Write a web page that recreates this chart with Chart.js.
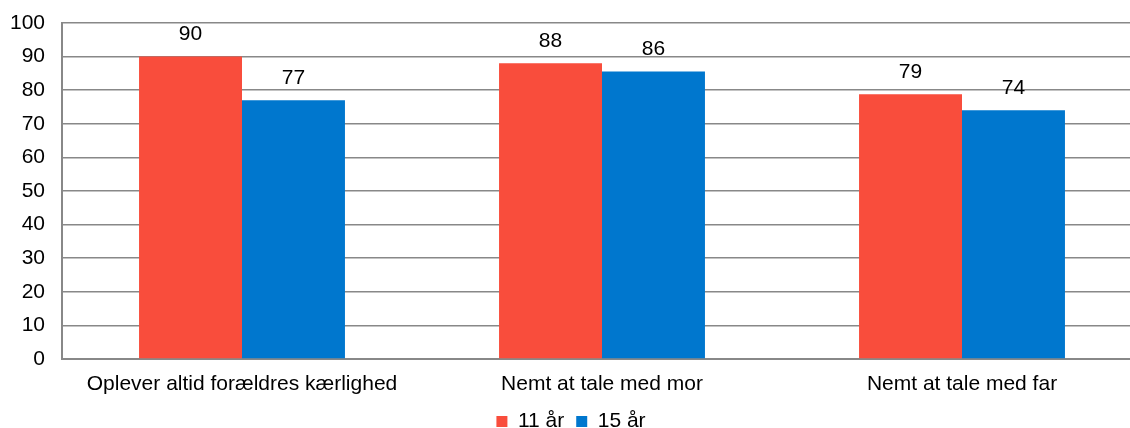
<!DOCTYPE html>
<html>
<head>
<meta charset="utf-8">
<script src="https://cdn.jsdelivr.net/npm/chart.js@4"></script>
<style>
  html, body { margin: 0; padding: 0; background: #fff; overflow: hidden; }
  #wrap { width: 1130px; height: 428px; overflow: hidden; }
</style>
</head>
<body>
<div id="wrap"><canvas id="chart" width="1150" height="442"></canvas></div>
<script>
const categories = ['Oplever altid forældres kærlighed', 'Nemt at tale med mor', 'Nemt at tale med far'];
const seriesNames = ['11 år', '15 år'];
const values11 = [90, 88, 78.8];
const values15 = [77, 85.6, 74];
const labels11 = ['90', '88', '79'];
const labels15 = ['77', '86', '74'];

const red = '#F94D3C';
const blue = '#0077CE';
const gridColor = '#888888';
const font = { family: 'Liberation Sans, Arial, sans-serif', size: 21 };

// draws the value above each bar
const valueLabels = {
    id: 'valueLabels',
    afterDatasetsDraw(chart) {
        const ctx = chart.ctx;
        const texts = [labels11, labels15];
        ctx.save();
        ctx.font = `${font.size}px ${font.family}`;
        ctx.fillStyle = '#000';
        ctx.textAlign = 'center';
        ctx.textBaseline = 'middle';
        chart.data.datasets.forEach((ds, i) => {
            chart.getDatasetMeta(i).data.forEach((bar, j) => {
                ctx.fillText(texts[i][j], bar.x, bar.y - 22);
            });
        });
        ctx.restore();
    }
};

new Chart(document.getElementById('chart').getContext('2d'), {
    type: 'bar',
    data: {
        labels: categories,
        datasets: [
            { label: seriesNames[0], data: values11, backgroundColor: red },
            { label: seriesNames[1], data: values15, backgroundColor: blue }
        ]
    },
    options: {
        responsive: false,
        animation: false,
        layout: { padding: { top: 23, right: 8, left: 0, bottom: 0 } },
        datasets: { bar: { categoryPercentage: 0.572, barPercentage: 1 } },
        scales: {
            x: {
                afterFit(scale) { scale.height = 40; },
                grid: { display: false, drawTicks: false },
                border: { color: gridColor, width: 2 },
                ticks: { color: '#000', font: font, padding: 13, maxRotation: 0 }
            },
            y: {
                min: 0,
                max: 100,
                afterFit(scale) {
                    scale.width = 62;
                    scale.paddingTop = 0;
                    scale.paddingBottom = 0;
                },
                grid: { color: gridColor, lineWidth: 1.5, drawTicks: false },
                border: { color: gridColor, width: 2 },
                ticks: { stepSize: 10, color: '#000', font: font, padding: 17 }
            }
        },
        plugins: {
            legend: {
                position: 'bottom',
                labels: { color: '#000', font: font, boxWidth: 11, boxHeight: 11, padding: 12 }
            },
            tooltip: { enabled: false }
        }
    },
    plugins: [valueLabels]
});
</script>
</body>
</html>
